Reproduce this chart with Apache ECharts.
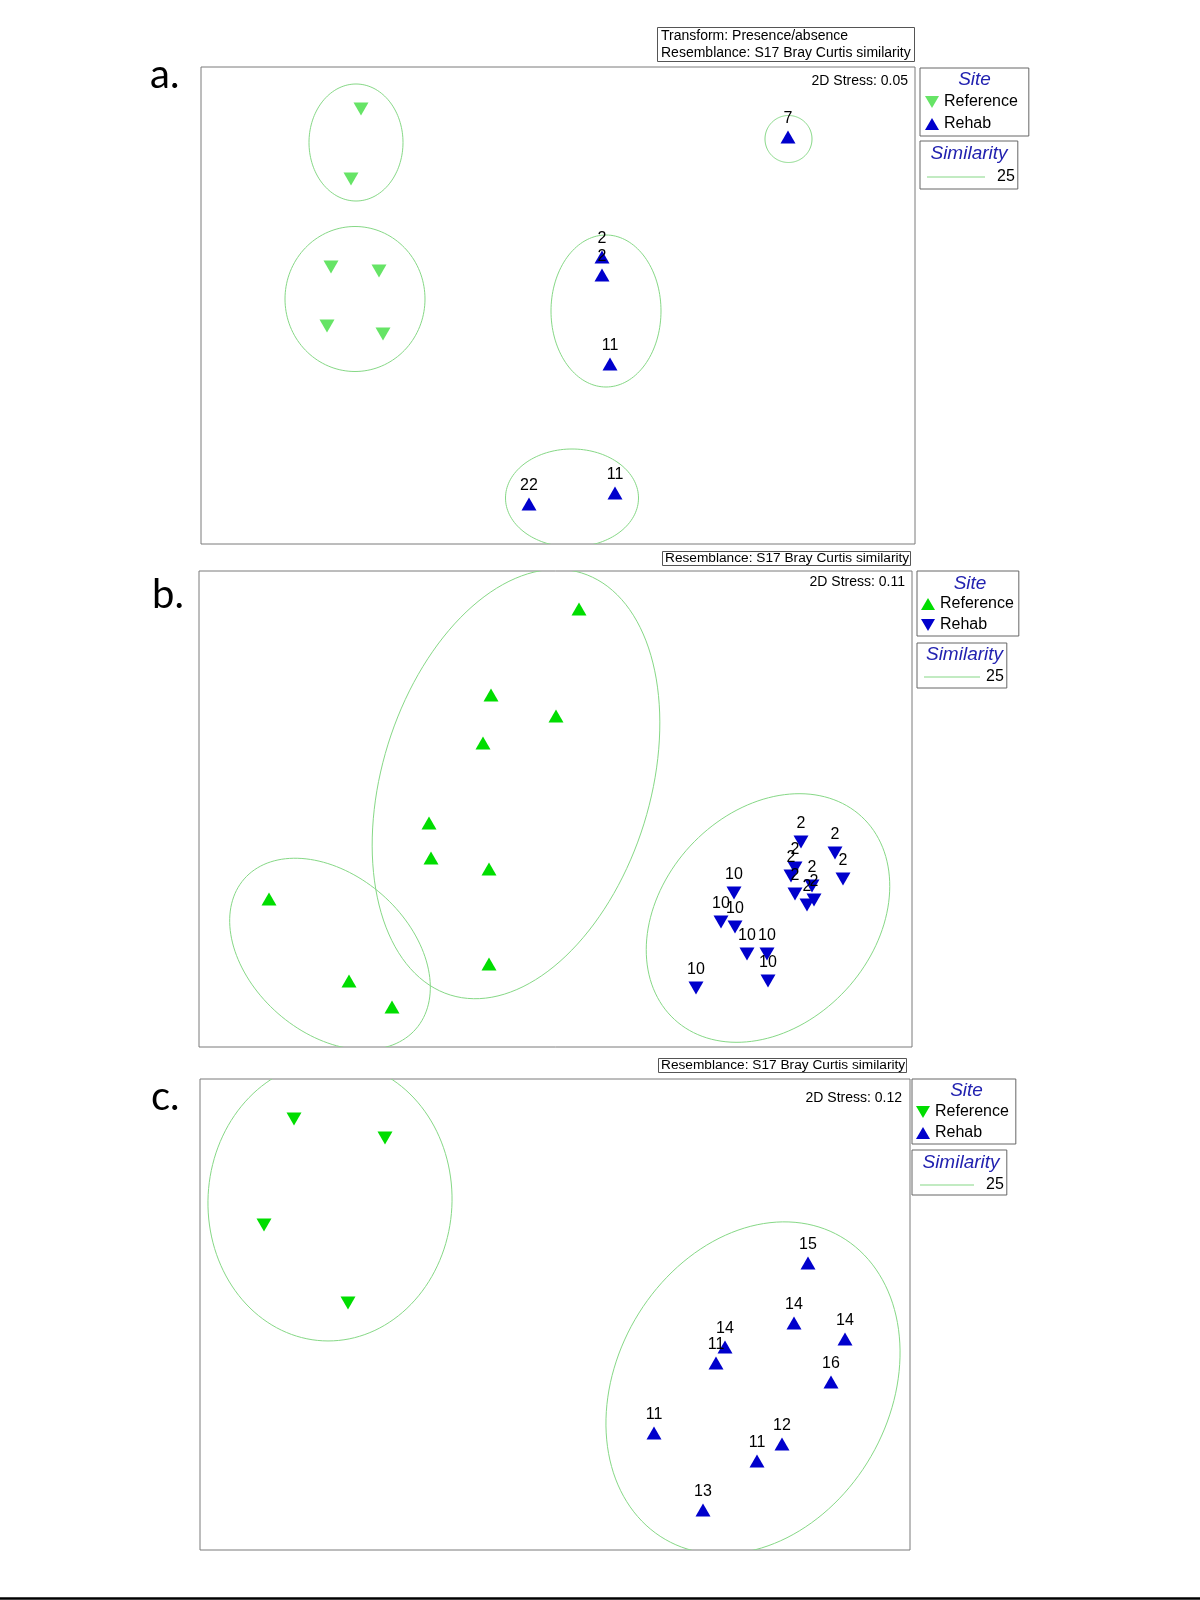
<!DOCTYPE html>
<html>
<head>
<meta charset="utf-8">
<script src="https://cdn.jsdelivr.net/npm/echarts@6/dist/echarts.min.js"></script>
<style>
html,body{margin:0;padding:0;background:#fff;}
#chart{width:1200px;height:1600px;}
</style>
</head>
<body>
<div id="chart"></div>
<script>
// ---------- DATA (ordination positions, in plot-box units, y up) ----------
// Panel a
const aRef = [[160,435],[150,365],[130,277],[178,273],[126,218],[182,210]];
const aRehab = [[587,407],[401,269],[401,287],[409,180],[328,40],[414,51]];
const aRehabLabels = ['7','2','2','11','22','11'];
// ellipse: [cx, cy, semiAxis1, semiAxis2, rotationDeg]
const aEllipses = [[155,401.5,47,58.5,0],[154,245,70,72.5,0],[405,233,55,76,0],[371,46,66.5,49,0],[587.5,405,23.5,23.5,0]];

// Panel b
const bRef = [[380,438],[292,352],[357,331],[284,304],[230,224],[232,189],[290,178],[70,148],[290,83],[150,66],[193,40]];
const bRehab = [[602,205],[636,194],[644,168],[596,179],[592,171],[613,161],[608,142],[615,147],[596,153],
                [535,154],[522,125],[536,120],[548,93],[568,93],[569,66],[497,59]];
const bRehabLabels = ['2','2','2','2','2','2','2','2','2','10','10','10','10','10','10','10'];
const bEllipses = [[317,263,221,134,72.7],[131,93,114,79,-41.2],[569,129,138,106,47.3]];

// Panel c
const cRef = [[94,431],[185,412],[64,325],[148,247]];
const cRehab = [[608,287],[594,227],[645,211],[525,203],[516,187],[631,168],[454,117],[582,106],[557,89],[503,40]];
const cRehabLabels = ['15','14','14','14','11','16','11','12','11','13'];
const cEllipses = [[130,349,122,140,-3],[553,162,175,136.4,59.9]];

const panelLetters = ['a.','b.','c.'];
const stressLabels = ['2D Stress: 0.05','2D Stress: 0.11','2D Stress: 0.12'];
const transformLabel = 'Transform: Presence/absence';
const resemblanceLabel = 'Resemblance: S17 Bray Curtis similarity';
const legendSiteTitle = 'Site';
const legendSimTitle = 'Similarity';
const siteNames = ['Reference','Rehab'];
const similarityLevel = '25';

// ---------- STYLE ----------
const FONT = '"Liberation Sans", Arial, Helvetica, sans-serif';
const BLUE = '#0000cc';
const GREEN_A = '#66e466';
const GREEN = '#00dd00';
const ELL = '#86d886';
const TITLE_BLUE = '#2222b0';
const DOWN = 'path://M0,0L14,0L7,12Z';

const grids = [
  {left:201, top:67, width:714, height:477},
  {left:199, top:571, width:713, height:476},
  {left:200, top:1079, width:710, height:471}
];

const panels = [
  {ref:aRef, refColor:GREEN_A, refDown:true, rehab:aRehab, rehabLabels:aRehabLabels, rehabDown:false, ell:aEllipses},
  {ref:bRef, refColor:GREEN, refDown:false, rehab:bRehab, rehabLabels:bRehabLabels, rehabDown:true, ell:bEllipses},
  {ref:cRef, refColor:GREEN, refDown:true, rehab:cRehab, rehabLabels:cRehabLabels, rehabDown:false, ell:cEllipses}
];

function ellipseItem(params, api) {
  const cx = api.value(0), cy = api.value(1), a = api.value(2), b = api.value(3);
  const r = api.value(4) * Math.PI / 180;
  const pts = [];
  const N = 144;
  for (let i = 0; i < N; i++) {
    const t = i / N * Math.PI * 2;
    const ex = a * Math.cos(t), ey = b * Math.sin(t);
    pts.push(api.coord([cx + ex * Math.cos(r) - ey * Math.sin(r), cy + ex * Math.sin(r) + ey * Math.cos(r)]));
  }
  return {type:'polygon', shape:{points:pts}, style:{fill:'none', stroke:ELL, lineWidth:1}, silent:true};
}

const xAxis = [], yAxis = [], series = [];
grids.forEach((g, i) => {
  xAxis.push({type:'value', gridIndex:i, min:0, max:g.width, show:false});
  yAxis.push({type:'value', gridIndex:i, min:0, max:g.height, show:false});
  const p = panels[i];
  series.push({
    type:'custom', name:similarityLevel, xAxisIndex:i, yAxisIndex:i, clip:true, z:1,
    renderItem: ellipseItem, data:p.ell, encode:{x:0, y:1}, silent:true
  });
  series.push({
    type:'scatter', name:siteNames[0], xAxisIndex:i, yAxisIndex:i, z:3,
    symbol:'triangle', symbolRotate:p.refDown ? 180 : 0, symbolSize:[15,13],
    itemStyle:{color:p.refColor, opacity:1}, data:p.ref, silent:true
  });
  series.push({
    type:'scatter', name:siteNames[1], xAxisIndex:i, yAxisIndex:i, z:3,
    symbol:'triangle', symbolRotate:p.rehabDown ? 180 : 0, symbolSize:[15,13],
    itemStyle:{color:BLUE, opacity:1}, data:p.rehab, silent:true,
    label:{show:true, position:'top', distance:4, color:'#000', fontSize:16, fontFamily:FONT,
      formatter:(prm) => p.rehabLabels[prm.dataIndex]}
  });
});

const gridOpts = grids.map(g => Object.assign({show:true, borderColor:'#7a7a7a', borderWidth:1, backgroundColor:'transparent', containLabel:false}, g));

const txt = {fontSize:14, fontWeight:'normal', fontFamily:FONT, color:'#000'};
const txt2 = {fontSize:13.7, fontWeight:'normal', fontFamily:FONT, color:'#000'};
const titles = [
  {text: transformLabel + '\n' + resemblanceLabel, left:657, top:27, padding:[1,4,0,4], borderColor:'#555', borderWidth:1,
    textStyle:Object.assign({lineHeight:17}, txt)},
  {text: resemblanceLabel, left:662, top:551, padding:[0,2,0,3], borderColor:'#555', borderWidth:1, textStyle:Object.assign({lineHeight:15}, txt2)},
  {text: resemblanceLabel, left:658, top:1058, padding:[0,2,0,3], borderColor:'#555', borderWidth:1, textStyle:Object.assign({lineHeight:15}, txt2)},
  {text: stressLabels[0], right:292, top:73, padding:0, textStyle:Object.assign({lineHeight:16}, txt)},
  {text: stressLabels[1], right:295, top:574, padding:0, textStyle:Object.assign({lineHeight:16}, txt)},
  {text: stressLabels[2], right:298, top:1090, padding:0, textStyle:Object.assign({lineHeight:16}, txt)}
];

const legTxt = {fontSize:16, fontFamily:FONT, color:'#000', lineHeight:18};
function siteLegend(i, left, top, padding, gap) {
  const p = panels[i];
  return {
    orient:'vertical', left:left, top:top, padding:padding, itemGap:gap,
    itemWidth:14, itemHeight:12, selectedMode:false,
    borderColor:'#666', borderWidth:1, textStyle:legTxt,
    data:[
      {name:siteNames[0], icon:p.refDown ? DOWN : 'triangle', itemStyle:{color:p.refColor}},
      {name:siteNames[1], icon:p.rehabDown ? DOWN : 'triangle', itemStyle:{color:BLUE}}
    ]
  };
}
function simLegend(left, top, padding, w, textPad) {
  return {
    orient:'vertical', left:left, top:top, padding:padding,
    itemWidth:w, itemHeight:1, selectedMode:false,
    borderColor:'#666', borderWidth:1,
    textStyle:Object.assign({padding:[0,0,0,textPad]}, legTxt),
    data:[{name:similarityLevel, icon:'rect', itemStyle:{color:ELL}}]
  };
}
const legends = [
  siteLegend(0, 920, 68, [25,11,3,5], 4),
  siteLegend(1, 917, 571, [24,5,2,4], 3),
  siteLegend(2, 912, 1079, [24,7,2,4], 3),
  simLegend(920, 141, [27,3,3,7], 58, 7),
  simLegend(917, 643, [25,3,2,7], 56, 1),
  simLegend(912, 1150, [26,3,1,8], 54, 7)
];

const titleTexts = [
  [legendSiteTitle, 974.5, 79.5], [legendSiteTitle, 970, 583.5], [legendSiteTitle, 966.5, 1091],
  [legendSimTitle, 969, 153.5], [legendSimTitle, 964.5, 654.5], [legendSimTitle, 961, 1162.5]
];
const graphic = titleTexts.map(t => ({
  type:'text', x:t[1], y:t[2], silent:true,
  style:{text:t[0], fill:TITLE_BLUE, font:'italic 19px ' + FONT, textAlign:'center', textVerticalAlign:'middle'}
}));
[[150,75],[152,595],[151,1097]].forEach((pos, i) => {
  graphic.push({type:'text', x:pos[0], y:pos[1], silent:true,
    style:{text:panelLetters[i], fill:'#000', font:'40px Lato, "Open Sans", sans-serif', textAlign:'left', textVerticalAlign:'middle'}});
});
graphic.push({type:'line', silent:true, shape:{x1:0, y1:1598.5, x2:1200, y2:1598.5}, style:{stroke:'#000', lineWidth:2.5}});

const chart = echarts.init(document.getElementById('chart'), null, {renderer:'canvas'});
chart.setOption({
  animation:false,
  backgroundColor:'#fff',
  title:titles,
  legend:legends,
  grid:gridOpts,
  xAxis:xAxis,
  yAxis:yAxis,
  series:series,
  graphic:graphic
});
</script>
</body>
</html>
